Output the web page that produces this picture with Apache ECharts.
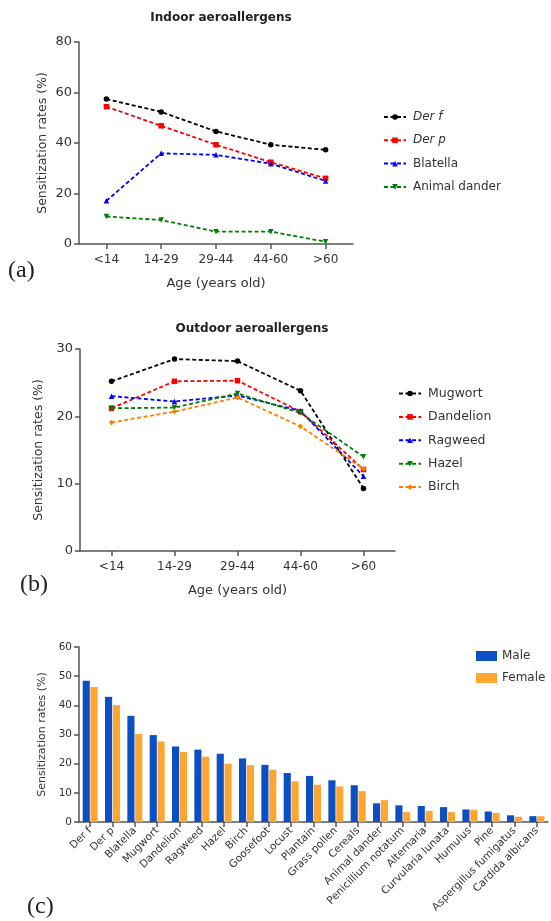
<!DOCTYPE html>
<html><head><meta charset="utf-8">
<script src="https://cdn.jsdelivr.net/npm/echarts@6/dist/echarts.min.js"></script>
<style>html,body{margin:0;padding:0;background:#fff}#c{width:551px;height:921px}</style>
</head><body><div id="c"></div>
<script>
// ---------- data ----------
const ageCategories = ['<14', '14-29', '29-44', '44-60', '>60'];
// (a) indoor
const derF = [57.4, 52.3, 44.6, 39.3, 37.3];
const derP = [54.4, 46.8, 39.3, 32.4, 26.0];
const blatella = [17.1, 35.9, 35.3, 31.8, 25.0];
const animalDander = [10.9, 9.5, 4.9, 4.9, 0.9];
// (b) outdoor
const mugwort = [25.2, 28.5, 28.2, 23.8, 9.3];
const dandelion = [21.2, 25.2, 25.3, 20.7, 12.1];
const ragweed = [23.0, 22.2, 23.1, 20.8, 11.1];
const hazel = [21.2, 21.3, 23.4, 20.5, 14.0];
const birch = [19.1, 20.7, 22.8, 18.5, 12.2];
// (c) by sex
const allergens = ['Der f', 'Der p', 'Blatella', 'Mugwort', 'Dandelion', 'Ragweed', 'Hazel', 'Birch',
  'Goosefoot', 'Locust', 'Plantain', 'Grass pollen', 'Cereals', 'Animal dander', 'Penicillium notatum',
  'Alternaria', 'Curvularia lunata', 'Humulus', 'Pine', 'Aspergillus fumigatus', 'Cardida albicans'];
const male = [48.4, 42.9, 36.4, 29.8, 25.9, 24.8, 23.4, 21.8, 19.6, 16.8, 15.8, 14.3, 12.6, 6.4, 5.7, 5.5, 5.1, 4.3, 3.6, 2.3, 2.0];
const female = [46.3, 40.1, 30.2, 27.6, 24.0, 22.4, 20.0, 19.5, 17.9, 13.9, 12.8, 12.2, 10.6, 7.5, 3.4, 3.8, 3.4, 4.2, 3.1, 1.8, 2.0];
const yTicksA = [0, 80, 20];
const yTicksB = [0, 30, 10];
const yTicksC = [0, 60, 10];

// ---------- styles ----------
const FONT = 'DejaVu Sans';
const TXT = '#333';
const AX = '#555';
const dash = [4, 2.5];

function catAxis(gridIndex, data, fontSize, name, nameGap, extra) {
  return Object.assign({
    type: 'category', gridIndex, data,
    boundaryGap: true,
    axisLine: { show: true, lineStyle: { color: AX, width: 1.5 } },
    axisTick: { show: true, alignWithLabel: true, length: 5, lineStyle: { color: AX, width: 1.5 } },
    axisLabel: { color: TXT, fontFamily: FONT, fontSize, margin: 10 },
    name, nameLocation: 'middle', nameGap,
    nameTextStyle: { color: TXT, fontFamily: FONT, fontSize: 13 }
  }, extra || {});
}
function valAxis(gridIndex, t, fontSize, nameSize, nameGap) {
  return {
    type: 'value', gridIndex, min: t[0], max: t[1], interval: t[2],
    splitLine: { show: false },
    axisLine: { show: true, lineStyle: { color: AX, width: 1.5 } },
    axisTick: { show: true, length: 5, lineStyle: { color: AX, width: 1.5 } },
    axisLabel: { color: TXT, fontFamily: FONT, fontSize, margin: 7 },
    name: 'Sensitization rates (%)', nameLocation: 'middle', nameGap, nameRotate: 90,
    nameTextStyle: { color: TXT, fontFamily: FONT, fontSize: nameSize }
  };
}
function lineSeries(name, data, color, symbol, xi, extra) {
  return Object.assign({
    type: 'line', name, data, xAxisIndex: xi, yAxisIndex: xi,
    symbol, symbolSize: 5.5,
    itemStyle: { color },
    lineStyle: { color, width: 1.8, type: dash },
    animation: false
  }, extra || {});
}

const chart = echarts.init(document.getElementById('c'), null, { renderer: 'canvas' });
chart.setOption({
  animation: false,
  backgroundColor: '#fff',
  textStyle: { fontFamily: FONT },
  title: [
    { text: 'Indoor aeroallergens', left: 216, top: 7, textAlign: 'center',
      textStyle: { fontFamily: FONT, fontSize: 12, fontWeight: 'bold', color: '#222' } },
    { text: 'Outdoor aeroallergens', left: 247, top: 318, textAlign: 'center',
      textStyle: { fontFamily: FONT, fontSize: 12, fontWeight: 'bold', color: '#222' } }
  ],
  grid: [
    { left: 79, top: 42, width: 274, height: 202, containLabel: false },
    { left: 80, top: 349, width: 315, height: 202, containLabel: false },
    { left: 79, top: 647, width: 469, height: 175, containLabel: false }
  ],
  xAxis: [
    catAxis(0, ageCategories, 12, 'Age (years old)', 33),
    catAxis(1, ageCategories, 12, 'Age (years old)', 33),
    catAxis(2, allergens, 10.5, '', 0, {
      axisLabel: { color: TXT, fontFamily: FONT, fontSize: 10.5, rotate: 45, interval: 0, margin: 7 }
    })
  ],
  yAxis: [
    valAxis(0, yTicksA, 13, 12.5, 30),
    valAxis(1, yTicksB, 13, 12.5, 30),
    valAxis(2, yTicksC, 10.5, 11, 22)
  ],
  legend: [
    { orient: 'vertical', left: 378, top: 106, itemWidth: 22, itemHeight: 7, itemGap: 11.3,
      data: ['Der f', 'Der p', 'Blatella', 'Animal dander'],
      formatter: n => (n === 'Der f' || n === 'Der p') ? '{i|' + n + '}' : n,
      textStyle: { color: TXT, fontFamily: FONT, fontSize: 12, padding: [0, 0, 0, 2],
        rich: { i: { fontStyle: 'italic', fontFamily: FONT, fontSize: 12, color: TXT } } } },
    { orient: 'vertical', left: 393, top: 382, itemWidth: 22, itemHeight: 7, itemGap: 10.4,
      data: ['Mugwort', 'Dandelion', 'Ragweed', 'Hazel', 'Birch'],
      textStyle: { color: TXT, fontFamily: FONT, fontSize: 12.5, padding: [0, 0, 0, 2] } },
    { orient: 'vertical', left: 471, top: 645, itemWidth: 21, itemHeight: 10, itemGap: 10,
      icon: 'rect', data: ['Male', 'Female'],
      textStyle: { color: TXT, fontFamily: FONT, fontSize: 12, padding: [0, 0, 0, 0] } }
  ],
  series: [
    lineSeries('Der f', derF, '#000000', 'circle', 0),
    lineSeries('Der p', derP, '#ff0000', 'rect', 0),
    lineSeries('Blatella', blatella, '#0000ff', 'triangle', 0),
    lineSeries('Animal dander', animalDander, '#008000', 'triangle', 0, { symbolRotate: 180 }),
    lineSeries('Mugwort', mugwort, '#000000', 'circle', 1),
    lineSeries('Dandelion', dandelion, '#ff0000', 'rect', 1),
    lineSeries('Ragweed', ragweed, '#0000ff', 'triangle', 1),
    lineSeries('Hazel', hazel, '#008000', 'triangle', 1, { symbolRotate: 180 }),
    lineSeries('Birch', birch, '#ff7f00', 'diamond', 1),
    { type: 'bar', name: 'Male', data: male, xAxisIndex: 2, yAxisIndex: 2,
      itemStyle: { color: '#0b4fc2' }, barGap: '10%', barCategoryGap: '33%' },
    { type: 'bar', name: 'Female', data: female, xAxisIndex: 2, yAxisIndex: 2,
      itemStyle: { color: '#ffa630' }, barGap: '10%', barCategoryGap: '33%' }
  ],
  graphic: [
    { type: 'text', left: 8, top: 259, style: { text: '(a)', font: '24px "Liberation Serif"', fill: '#222' } },
    { type: 'text', left: 20, top: 573, style: { text: '(b)', font: '24px "Liberation Serif"', fill: '#222' } },
    { type: 'text', left: 27, top: 895, style: { text: '(c)', font: '24px "Liberation Serif"', fill: '#222' } }
  ]
});
</script>
</body></html>
